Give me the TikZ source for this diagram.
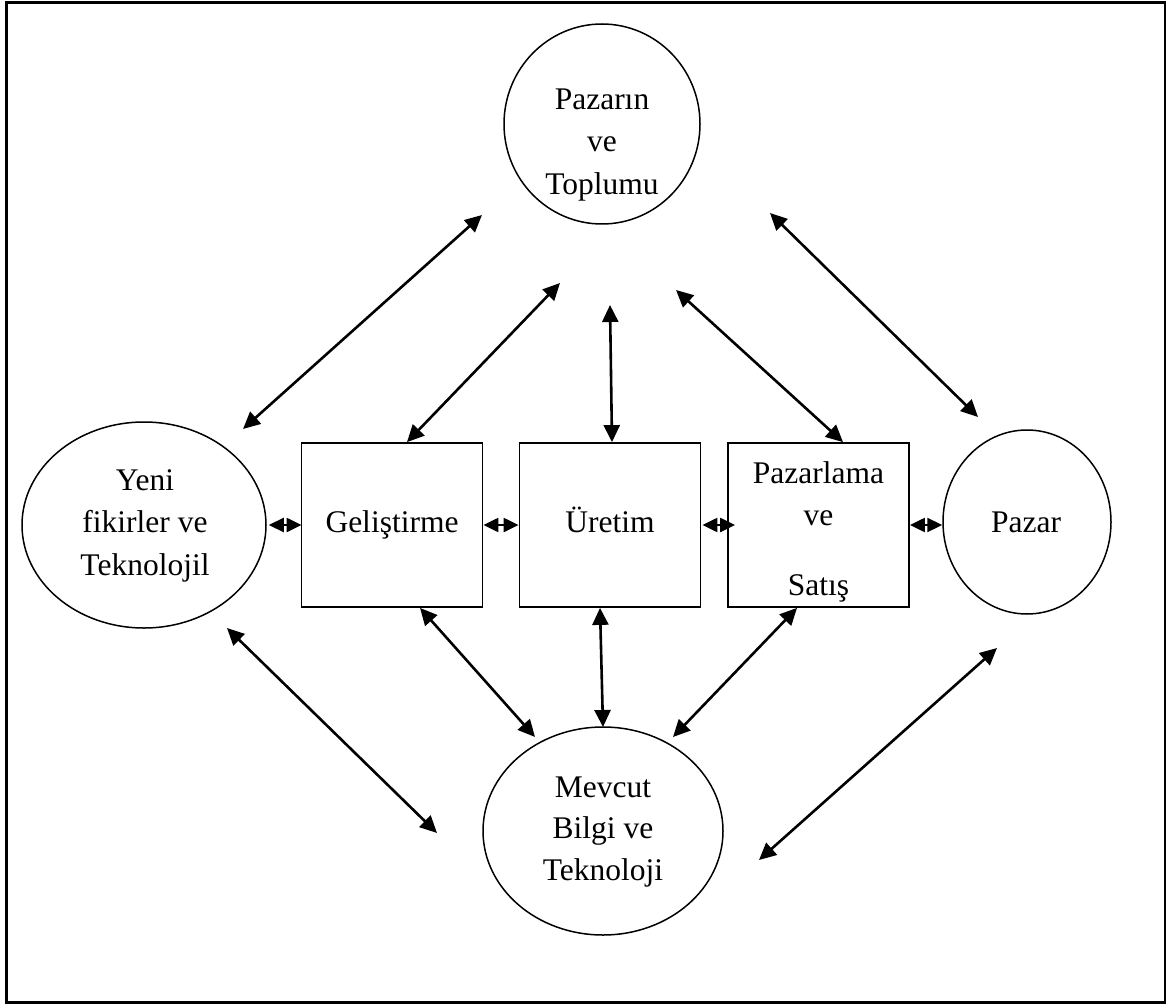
\documentclass[tikz,border=0pt]{standalone}
\usepackage{fontspec}
\setmainfont{Liberation Serif}
\usetikzlibrary{arrows.meta,shapes.geometric}

\begin{document}
\begin{tikzpicture}[x=1pt,y=-1pt,
  oval/.style={draw,ellipse,line width=1.5pt,inner sep=0pt},
  stage/.style={draw,rectangle,line width=1.8pt,inner sep=0pt,minimum width=181pt,minimum height=164pt},
  txt/.style={anchor=base,inner sep=0pt,font=\fontsize{31.5}{40}\selectfont},
  big/.style={line width=2.6pt,{Triangle[length=17pt,width=16pt]}-{Triangle[length=17pt,width=16pt]}},
  tiny/.style={line width=2.2pt,{Triangle[length=15pt,width=14pt]}-{Triangle[length=15pt,width=14pt]}}]

\useasboundingbox (0,0) rectangle (1169,1008);
\fill[white] (0,0) rectangle (1169,1008);
\draw[line width=2.4pt] (6.5,2.5) rectangle (1165,1002.5);

% outer circles and ellipses
\node[oval,minimum width=196pt,minimum height=200pt] (mkt) at (602,124) {};
\node[oval,minimum width=244pt,minimum height=206pt] (new) at (144,525) {};
\node[oval,minimum width=168pt,minimum height=184pt] (pzr) at (1027,522) {};
\node[oval,minimum width=240pt,minimum height=208pt] (kno) at (603,831) {};

% process boxes
\node[stage] (dev) at (392,525) {};
\node[stage] (pro) at (610,525) {};
\node[stage] (sal) at (818.5,525) {};

% labels
\node[txt] (mkt1) at (602,110) {Pazarın};
\node[txt] (mkt2) at (602,152) {ve};
\node[txt] (mkt3) at (602,195) {Toplumu};

\node[txt] (new1) at (145,490) {Yeni};
\node[txt] (new2) at (145,532) {fikirler ve};
\node[txt] (new3) at (145,575) {Teknolojil};

\node[txt] (pzr1) at (1026,532) {Pazar};

\node[txt] (kno1) at (603,797) {Mevcut};
\node[txt] (kno2) at (603,838) {Bilgi ve};
\node[txt] (kno3) at (603,880) {Teknoloji};

\node[txt] (dev1) at (392,532) {Geliştirme};
\node[txt] (pro1) at (610,532) {Üretim};
\node[txt] (sal1) at (818.5,483) {Pazarlama};
\node[txt] (sal2) at (818.5,525) {ve};
\node[txt] (sal3) at (818.5,595) {Satış};

% free ends of the long links
\coordinate (a1) at (243,429);  \coordinate (a2) at (482,215);
\coordinate (b1) at (770,213);  \coordinate (b2) at (978,417);
\coordinate (c1) at (227,628);  \coordinate (c2) at (437,833);
\coordinate (d1) at (759,860);  \coordinate (d2) at (997,648);
\coordinate (e2) at (560,283);
\coordinate (f2) at (610,305);
\coordinate (g2) at (676,290);
\coordinate (h2) at (535,737);
\coordinate (i2) at (603,727);
\coordinate (j2) at (673,737);

\draw[big] (a1) -- (a2);
\draw[big] (b1) -- (b2);
\draw[big] (c1) -- (c2);
\draw[big] (d1) -- (d2);

\draw[big] (dev.north -| 407,0) -- (e2);
\draw[big] (pro.north -| 612,0) -- (f2);
\draw[big] (sal.north -| 843,0) -- (g2);
\draw[big] (dev.south -| 420,0) -- (h2);
\draw[big] (pro.south -| 600,0) -- (i2);
\draw[big] (sal.south -| 797,0) -- (j2);

% short links between neighbours
\draw[tiny,shorten <=2pt,shorten >=-1pt] (new.east) -- (dev.west);
\draw[tiny] (dev.east) -- (pro.west);
\draw[tiny,shorten <=1pt,shorten >=-8pt] (pro.east) -- (sal.west);
\draw[tiny] (sal.east) -- (sal.east -| pzr.west);
\end{tikzpicture}
\end{document}
